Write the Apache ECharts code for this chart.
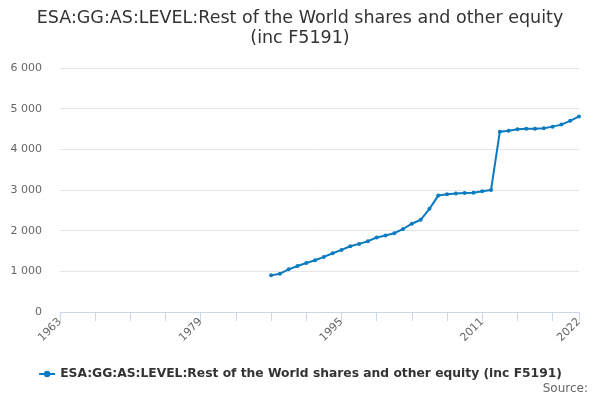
<!DOCTYPE html>
<html>
<head>
<meta charset="utf-8">
<script src="https://cdn.jsdelivr.net/npm/echarts@6/dist/echarts.min.js"></script>
<style>
  html, body { margin: 0; padding: 0; background: #fff; }
  #chart { width: 600px; height: 400px; }
</style>
</head>
<body>
<div id="chart"></div>
<script>
// years on the x axis, 1963..2022
var years = [];
for (var y = 1963; y <= 2022; y++) years.push(String(y));

// values, 1987..2022 (earlier years empty)
var firstYear = 1987;
var levels = [
    901, 942, 1049, 1132, 1206, 1272, 1354, 1444, 1527, 1617,
    1675, 1741, 1831, 1881, 1938, 2041, 2171, 2268, 2537, 2862,
    2894, 2911, 2927, 2935, 2967, 3000, 4433, 4458, 4492, 4508,
    4508, 4517, 4558, 4608, 4700, 4808
];
var yTicks = [0, 1000, 2000, 3000, 4000, 5000, 6000];
var seriesName = 'ESA:GG:AS:LEVEL:Rest of the World shares and other equity (inc F5191)';

var data = years.map(function (yr) {
    var i = Number(yr) - firstYear;
    return i >= 0 && i < levels.length ? levels[i] : '-';
});

function fmt(v) {
    return String(v).replace(/\B(?=(\d{3})+(?!\d))/g, ' ');
}

var chart = echarts.init(document.getElementById('chart'));
chart.setOption({
    animation: false,
    textStyle: { fontFamily: 'DejaVu Sans' },
    title: {
        text: 'ESA:GG:AS:LEVEL:Rest of the World shares and other equity\n(inc F5191)',
        left: 'center',
        top: 8,
        padding: 0,
        textStyle: { fontSize: 17.5, fontWeight: 'normal', color: '#333', lineHeight: 20.5 }
    },
    legend: {
        top: 368,
        left: 'center',
        padding: 0,
        itemWidth: 16,
        itemHeight: 8,
        itemGap: 5,
        textStyle: { fontSize: 12.3, fontWeight: 'bold', color: '#333' },
        data: [seriesName]
    },
    graphic: [{
        type: 'text',
        right: 12,
        top: 383,
        style: { text: 'Source:', fontSize: 12, fill: '#666', fontFamily: 'DejaVu Sans' }
    }],
    grid: { left: 60, right: 21, top: 68, bottom: 88 },
    xAxis: {
        type: 'category',
        data: years,
        boundaryGap: false,
        axisLine: { lineStyle: { color: '#ccd6eb' } },
        axisTick: {
            length: 9,
            lineStyle: { color: '#ccd6eb' },
            interval: function (i) { return i % 4 === 0 || i === years.length - 1; }
        },
        axisLabel: {
            rotate: 45,
            color: '#666',
            fontSize: 11,
            margin: 8,
            interval: function (i) { return i % 16 === 0 || i === years.length - 1; }
        }
    },
    yAxis: {
        type: 'value',
        min: yTicks[0],
        max: yTicks[yTicks.length - 1],
        interval: 1000,
        axisLine: { show: false },
        axisTick: { show: false },
        axisLabel: { color: '#666', fontSize: 11, margin: 18, formatter: fmt },
        splitLine: { lineStyle: { color: '#e6e6e6' } }
    },
    series: [{
        name: seriesName,
        type: 'line',
        data: data,
        color: '#0a7bc1',
        symbol: 'circle',
        symbolSize: 4,
        lineStyle: { width: 2 }
    }]
});
</script>
</body>
</html>
